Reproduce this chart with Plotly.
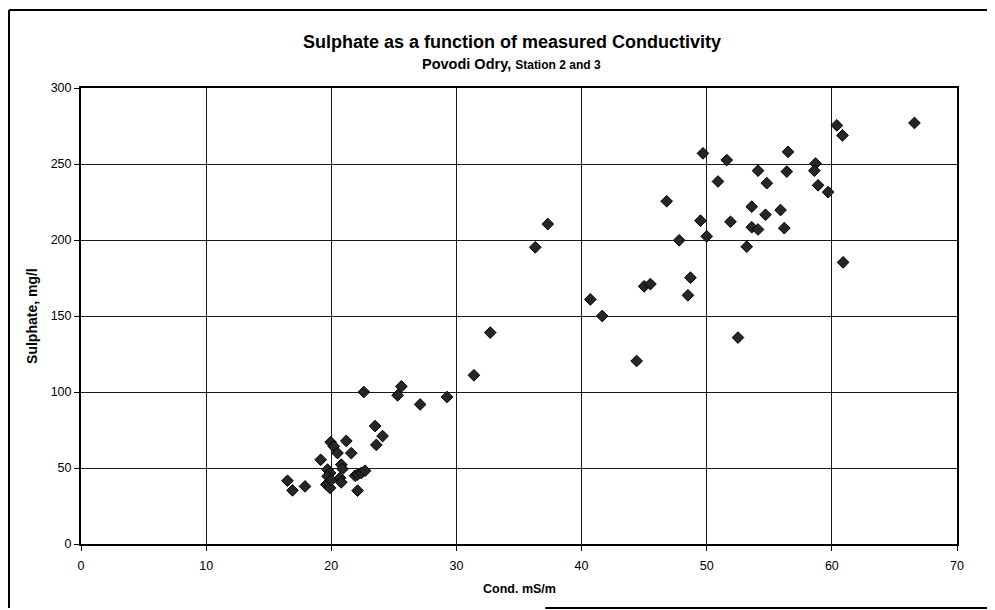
import plotly.graph_objects as go

# Conductivity (mS/m) and sulphate (mg/l)
cond = [16.5, 16.9, 17.9, 19.15, 19.95, 20.2, 20.5, 19.7, 19.9, 19.7,
        19.6, 19.9, 20.0, 20.8, 20.9, 20.7, 20.8, 21.2, 21.6, 21.9,
        22.1, 22.4, 22.7, 22.1, 22.6, 23.5, 24.1, 23.6, 25.6, 25.3,
        27.1, 29.25,
        31.4, 32.7, 36.3, 37.3, 40.7, 41.65, 44.4, 45.0, 45.5, 46.8,
        47.8, 48.7, 48.5,
        49.7, 51.6, 50.9, 49.5, 50.0, 51.9, 52.5, 53.2, 53.6, 54.1,
        53.6, 54.7, 54.1, 54.8, 55.9, 56.2, 56.4, 56.5, 58.7, 58.6,
        58.9, 59.7, 60.4, 60.85, 60.9, 66.6]
sulphate = [41.6, 35.3, 37.9, 55.4, 67.0, 64.2, 59.8, 48.9, 46.7, 44.6,
            39.1, 36.9, 42.0, 52.2, 49.4, 43.5, 40.6, 67.8, 59.8, 44.9,
            45.6, 46.7, 48.2, 35.1, 100.0, 77.6, 71.0, 65.2, 103.7, 97.8,
            91.8, 96.7,
            111.0, 139.1, 195.2, 210.5, 160.9, 150.0, 120.4, 169.5, 171.0, 225.5,
            199.8, 175.2, 163.6,
            257.0, 252.6, 238.5, 212.7, 202.4, 212.0, 135.8, 195.6, 208.4, 206.9,
            221.9, 216.6, 245.6, 237.4, 219.7, 207.8, 245.0, 258.0, 250.3, 245.6,
            236.0, 231.5, 275.4, 268.8, 185.3, 277.0]

FONT = "Arial, Liberation Sans, sans-serif"

fig = go.Figure(go.Scatter(
    x=cond, y=sulphate, mode="markers",
    marker=dict(symbol="diamond", size=9, color="#262626",
                line=dict(color="#000000", width=1)),
    hoverinfo="x+y",
))

axis_style = dict(
    showgrid=True, gridcolor="#1a1a1a", gridwidth=1.3,
    showline=True, linecolor="#000000", linewidth=2, mirror=True,
    ticks="outside", ticklen=5, tickcolor="#000000", tickwidth=1,
    zeroline=False, tickfont=dict(family=FONT, size=12.5, color="#000000"),
)

fig.update_xaxes(range=[0, 70], dtick=10, ticklabelstandoff=4, **axis_style)
fig.update_yaxes(range=[0, 300], dtick=50, **axis_style)

# page body adds 8px, so the figure is 8px smaller than the window
fig.update_layout(
    width=987, height=602,
    margin=dict(l=73, r=38, t=80, b=66),
    paper_bgcolor="white", plot_bgcolor="white",
    showlegend=False,
    font=dict(family=FONT, color="#000000"),
    annotations=[
        dict(text="<b>Sulphate as a function of measured Conductivity</b>",
             x=0.492, y=1.1, xref="paper", yref="paper",
             xanchor="center", yanchor="middle", showarrow=False,
             font=dict(size=18, family=FONT)),
        dict(text="<b>Povodi Odry, </b><b><span style='font-size:12px'>Station 2 and 3</span></b>",
             x=0.491, y=1.052, xref="paper", yref="paper",
             xanchor="center", yanchor="middle", showarrow=False,
             font=dict(size=14.5, family=FONT)),
        dict(text="<b>Cond. mS/m</b>",
             x=0.501, y=-0.099, xref="paper", yref="paper",
             xanchor="center", yanchor="middle", showarrow=False,
             font=dict(size=12.5, family=FONT)),
        dict(text="<b>Sulphate, mg/l</b>", textangle=-90,
             x=-0.056, y=0.5, xref="paper", yref="paper",
             xanchor="center", yanchor="middle", showarrow=False,
             font=dict(size=14, family=FONT)),
    ],
    shapes=[
        # outer frame of the scanned chart (left, top, part of bottom)
        dict(type="line", xref="paper", yref="paper",
             x0=-0.0822, x1=-0.0822, y0=-0.1404, y1=1.171,
             line=dict(color="#000000", width=2)),
        dict(type="line", xref="paper", yref="paper",
             x0=-0.0822, x1=1.06, y0=1.171, y1=1.171,
             line=dict(color="#000000", width=2)),
        dict(type="line", xref="paper", yref="paper",
             x0=0.53, x1=1.06, y0=-0.1404, y1=-0.1404,
             line=dict(color="#000000", width=2)),
    ],
)

fig.write_html("out.html")
